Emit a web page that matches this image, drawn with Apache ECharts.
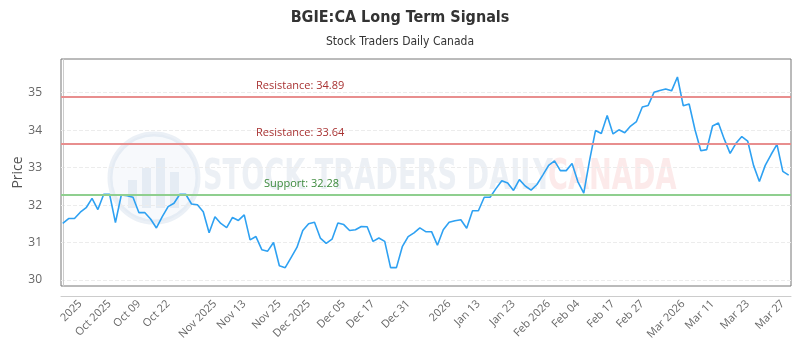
<!DOCTYPE html>
<html>
<head>
<meta charset="utf-8">
<script src="https://cdn.jsdelivr.net/npm/echarts@6/dist/echarts.min.js"></script>
<style>
  html, body { margin: 0; padding: 0; background: #fff; }
  #chart { width: 800px; height: 350px; }
</style>
</head>
<body>
<div id="chart"></div>
<script>
// closing prices, one per trading day
const prices = [
  31.51, 31.64, 31.64, 31.81, 31.93, 32.18, 31.88, 32.29, 32.29, 31.53,
  32.27, 32.25, 32.21, 31.80, 31.80, 31.63, 31.39, 31.69, 31.96, 32.05,
  32.29, 32.29, 32.03, 32.01, 31.82, 31.26, 31.69, 31.51, 31.40, 31.67,
  31.59, 31.74, 31.07, 31.16, 30.81, 30.77, 31.00, 30.38, 30.33, 30.60,
  30.87, 31.32, 31.50, 31.54, 31.12, 30.98, 31.09, 31.52, 31.48, 31.32,
  31.34, 31.43, 31.42, 31.03, 31.12, 31.03, 30.33, 30.33, 30.89, 31.16,
  31.26, 31.39, 31.29, 31.29, 30.93, 31.34, 31.54, 31.58, 31.61, 31.38,
  31.85, 31.85, 32.21, 32.21, 32.44, 32.65, 32.59, 32.39, 32.68, 32.51,
  32.40, 32.55, 32.80, 33.06, 33.18, 32.92, 32.92, 33.11, 32.62, 32.32,
  33.20, 33.99, 33.91, 34.39, 33.90, 34.01, 33.93, 34.11, 34.23, 34.62,
  34.66, 35.01, 35.06, 35.10, 35.05, 35.42, 34.65, 34.70, 34.01, 33.45,
  33.48, 34.11, 34.19, 33.76, 33.38, 33.65, 33.83, 33.71, 33.06, 32.63,
  33.06, 33.35, 33.62, 32.90, 32.80
];

// date labels shown on the x axis and the day index they sit on
const tickIndex = [3, 8, 13, 18, 26, 31, 37, 42, 48, 53, 59, 66, 71, 77, 83, 88, 94, 99, 106, 111, 117, 123];
const tickLabels = ['2025', 'Oct 2025', 'Oct 09', 'Oct 22', 'Nov 2025', 'Nov 13', 'Nov 25', 'Dec 2025', 'Dec 05',
  'Dec 17', 'Dec 31', '2026', 'Jan 13', 'Jan 23', 'Feb 2026', 'Feb 04', 'Feb 17', 'Feb 27', 'Mar 2026',
  'Mar 11', 'Mar 23', 'Mar 27'];

const yTicks = [30, 31, 32, 33, 34, 35];

// signal levels
const levelNames = ['Resistance', 'Resistance', 'Support'];
const levelValues = [34.89, 33.64, 32.28];

const chart = echarts.init(document.getElementById('chart'));

const lineColors = { Resistance: '#e88e8e', Support: '#8fcf8f' };
const textColors = { Resistance: '#a83232', Support: '#3d8b3d' };

const option = {
  animation: false,
  title: {
    text: 'BGIE:CA Long Term Signals',
    subtext: 'Stock Traders Daily Canada',
    left: 'center',
    top: 5,
    itemGap: 10,
    textStyle: { fontFamily: 'DejaVu Sans Condensed', fontWeight: 'bold', fontSize: 16, color: '#333' },
    subtextStyle: { fontFamily: 'DejaVu Sans Condensed', fontSize: 12, color: '#333' }
  },
  graphic: [
    {
      type: 'group', silent: true, z: 0,
      children: [
        { type: 'circle', shape: { cx: 154, cy: 178, r: 44 },
          style: { fill: 'rgba(200,215,235,0.15)', stroke: 'rgba(190,205,225,0.3)', lineWidth: 5 } },
        { type: 'rect', shape: { x: 128, y: 180, width: 9, height: 28 }, style: { fill: 'rgba(190,205,225,0.3)' } },
        { type: 'rect', shape: { x: 142, y: 168, width: 9, height: 40 }, style: { fill: 'rgba(190,205,225,0.3)' } },
        { type: 'rect', shape: { x: 156, y: 158, width: 9, height: 50 }, style: { fill: 'rgba(190,205,225,0.3)' } },
        { type: 'rect', shape: { x: 170, y: 172, width: 9, height: 36 }, style: { fill: 'rgba(190,205,225,0.3)' } },
        { type: 'text', x: 203, y: 178, scaleX: 0.72,
          style: { text: 'STOCK TRADERS DAILY', font: 'bold 42px "DejaVu Sans Condensed"',
            fill: 'rgba(185,198,218,0.27)', verticalAlign: 'middle', align: 'left' } },
        { type: 'text', x: 548, y: 178, scaleX: 0.72,
          style: { text: 'CANADA', font: 'bold 42px "DejaVu Sans Condensed"',
            fill: 'rgba(240,140,140,0.18)', verticalAlign: 'middle', align: 'left' } }
      ]
    }
  ],
  grid: {
    left: 61, right: 9, top: 59, bottom: 64,
    outerBoundsMode: 'none',
    containLabel: false,
    show: true, borderColor: '#777', borderWidth: 1, backgroundColor: 'transparent'
  },
  xAxis: {
    type: 'value',
    min: -0.3,
    max: prices.length - 1 + 0.4,
    offset: 10,
    axisLine: { show: true, lineStyle: { color: '#ccc' } },
    axisTick: { show: false, customValues: tickIndex },
    splitLine: { show: false },
    axisLabel: {
      customValues: tickIndex,
      rotate: 45,
      margin: 6,
      fontFamily: 'Open Sans',
      fontSize: 11,
      color: '#666',
      formatter: function (v) {
        const k = tickIndex.indexOf(Math.round(v));
        return k >= 0 ? tickLabels[k] : '';
      }
    }
  },
  yAxis: {
    type: 'value',
    min: 29.84,
    max: 35.9,
    offset: 11,
    name: 'Price',
    nameLocation: 'middle',
    nameGap: 25,
    nameMoveOverlap: false,
    nameTextStyle: { fontFamily: 'Open Sans', fontSize: 14, color: '#555' },
    axisLine: { show: true, lineStyle: { color: '#ccc' } },
    axisTick: { show: false, customValues: yTicks },
    axisLabel: { customValues: yTicks, margin: 8, fontFamily: 'Open Sans', fontSize: 12, color: '#666' },
    splitLine: { show: true, lineStyle: { color: '#ececec', type: 'dashed' } }
  },
  series: [{
    type: 'line',
    data: prices.map((p, i) => [i, p]),
    showSymbol: false,
    lineStyle: { color: '#2ea1f2', width: 1.6 },
    itemStyle: { color: '#2ea1f2' },
    z: 3,
    markLine: {
      silent: true,
      symbol: 'none',
      data: levelValues.map((v, i) => ({
        yAxis: v,
        lineStyle: { color: lineColors[levelNames[i]], width: 2, type: 'solid' },
        label: {
          show: true,
          position: 'insideStartTop',
          formatter: levelNames[i] + ': ' + v.toFixed(2),
          fontFamily: 'Open Sans',
          fontSize: 11,
          color: textColors[levelNames[i]],
          padding: [0, 0, 0, levelNames[i] === 'Support' ? 198 : 190]
        }
      }))
    }
  }]
};

chart.setOption(option);
</script>
</body>
</html>
